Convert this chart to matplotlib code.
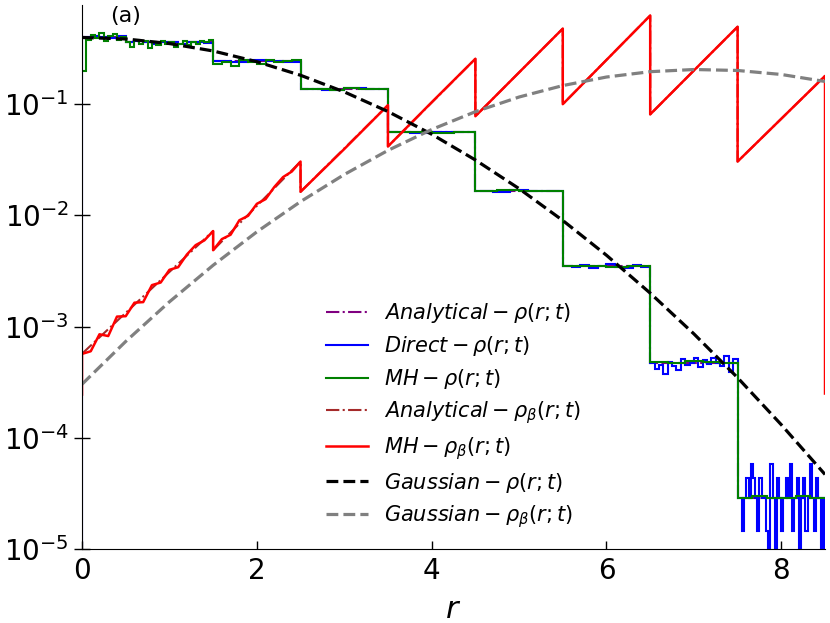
import numpy as np
import matplotlib.pyplot as plt

# ---- data ----
edges = [0, 0.5, 1.5, 2.5, 3.5, 4.5, 5.5, 6.5, 7.5, 8.5]
analytical_rho = [0.404, 0.360, 0.245, 0.137, 0.0557, 0.0166, 0.00348, 0.00047, 2.9e-5]

# direct sampling, sub-bins inside each bin
direct_rho = [
    [0.40, 0.41, 0.40, 0.39, 0.41],
    [0.36, 0.37, 0.36, 0.35, 0.36, 0.36, 0.35, 0.36, 0.36, 0.355],
    [0.245, 0.24, 0.25, 0.245, 0.24],
    [0.137, 0.135, 0.139, 0.137],
    [0.0557, 0.0552, 0.0562, 0.0557],
    [0.0166, 0.0162, 0.0169, 0.0164, 0.0167],
    [3.48e-3, 3.40e-3, 3.55e-3, 3.35e-3, 3.50e-3, 3.62e-3, 3.42e-3, 3.38e-3, 3.56e-3, 3.45e-3],
    [4.70e-4, 4.19e-4, 4.49e-4, 3.73e-4, 4.81e-4, 4.39e-4, 4.09e-4, 5.15e-4, 4.49e-4, 4.70e-4,
     5.27e-4, 4.29e-4, 5.04e-4, 4.59e-4, 5.27e-4, 4.70e-4, 4.39e-4, 5.40e-4, 3.91e-4, 5.15e-4],
]
# last bin: counts of samples (one count ~ 1.45e-5)
direct_last_counts = [2, 2, 1, 2, 3, 2, 4, 3, 2, 1, 3, 2, 2, 1, 0, 4, 2, 0, 3, 2,
                      1, 2, 3, 2, 4, 1, 2, 3, 0, 2, 3, 1, 2, 4, 2, 1, 3, 2, 0, 2]
count_value = 1.45e-5

mh_rho = [
    [0.20, 0.38, 0.42, 0.39, 0.44, 0.37, 0.41, 0.43, 0.38, 0.40],
    [0.36, 0.33, 0.38, 0.35, 0.37, 0.32, 0.36, 0.34, 0.37, 0.35,
     0.36, 0.33, 0.35, 0.37, 0.34, 0.36, 0.35, 0.37, 0.36, 0.38],
    [0.23, 0.24, 0.22, 0.25, 0.24, 0.23, 0.25, 0.24, 0.245, 0.25],
    [0.136, 0.138, 0.135, 0.139, 0.137, 0.138],
    [0.0557, 0.056, 0.0555, 0.0558],
    [0.0166, 0.0168, 0.0165, 0.0167],
    [0.00348, 0.0035, 0.00346, 0.00349],
    [0.00048, 0.00047, 0.00049, 0.00048, 0.00047],
    [2.9e-5, 3.0e-5, 2.9e-5, 2.85e-5, 3.0e-5, 2.9e-5],
]

# rho_beta: analytical sawtooth (start / end of each segment)
beta_edges = [0, 1.5, 2.5, 3.5, 4.5, 5.5, 6.5, 7.5, 8.5]
beta_start = [5.7e-4, 4.86e-3, 0.0163, 0.0417, 0.0779, 0.100, 0.081, 0.0305]
beta_end = [7.23e-3, 0.0305, 0.098, 0.256, 0.478, 0.627, 0.497, 0.1795]

# MH rho_beta
red_r = [0, 0, 0.1, 0.2, 0.3, 0.4, 0.5, 0.6, 0.7, 0.8, 0.9, 1.0, 1.1, 1.2, 1.3, 1.4, 1.5,
         1.5, 1.6, 1.7, 1.8, 1.9, 2.0, 2.1, 2.2, 2.3, 2.4, 2.5,
         2.5, 3.0, 3.5, 3.5, 4.0, 4.5, 4.5, 5.0, 5.5, 5.5, 6.0, 6.5, 6.5, 7.0, 7.5, 7.5, 8.0, 8.5, 8.5]
red_v = [2.45e-4, 5.68e-4, 6.0e-4, 8.53e-4, 8.22e-4, 1.23e-3, 1.24e-3, 1.64e-3, 1.66e-3, 2.36e-3,
         2.49e-3, 3.24e-3, 3.42e-3, 4.45e-3, 5.40e-3, 5.96e-3, 7.23e-3,
         4.86e-3, 6.12e-3, 6.70e-3, 9.04e-3, 9.91e-3, 1.27e-2, 1.40e-2, 1.80e-2, 2.21e-2, 2.48e-2, 3.05e-2,
         1.63e-2, 3.95e-2, 9.8e-2, 4.17e-2, 0.104, 0.256, 0.0779, 0.193, 0.478, 0.100, 0.250, 0.627,
         0.081, 0.201, 0.497, 0.0305, 0.074, 0.1795, 2.5e-4]

# gaussian fits
gauss_r = [0, 0.5, 1, 1.5, 2, 2.5, 3, 3.5, 4, 4.5, 5, 5.5, 6, 6.5, 7, 7.5, 8, 8.5]
gauss_rho = [0.398, 0.386, 0.351, 0.301, 0.241, 0.182, 0.129, 0.0859, 0.0537, 0.0315,
             0.0174, 0.0090, 0.00438, 0.00200, 8.6e-4, 3.47e-4, 1.31e-4, 4.68e-5]
gauss_beta = [3.03e-4, 7.35e-4, 1.67e-3, 3.56e-3, 7.11e-3, 0.0133, 0.0233, 0.0384, 0.0592, 0.0856,
              0.116, 0.147, 0.1755, 0.196, 0.205, 0.201, 0.185, 0.160]


def expand(edges, per_bin):
    xs, ys = [edges[0]], []
    for i, vals in enumerate(per_bin):
        sub = np.linspace(edges[i], edges[i + 1], len(vals) + 1)
        xs.extend(sub[1:])
        ys.extend(vals)
    return np.array(xs), np.array(ys)


def main():
    fig = plt.figure(figsize=(8.3, 6.23), dpi=100)
    ax = fig.add_axes([0.0988, 0.1188, 0.8952, 0.8732])

    last = [c * count_value if c > 0 else 1e-7 for c in direct_last_counts]
    dx, dy = expand(edges, direct_rho + [last])
    mx, my = expand(edges, mh_rho)

    ax.stairs(analytical_rho, edges, color='purple', linestyle='-.', linewidth=1.5,
              baseline=None, label=r'$Analytical-\rho(r;t)$')
    ax.stairs(dy, dx, color='blue', linewidth=1.5, baseline=1e-7,
              label=r'$Direct-\rho(r;t)$')
    ax.stairs(my, mx, color='green', linewidth=1.5, baseline=None,
              label=r'$MH-\rho(r;t)$')

    br, bv = [], []
    for i in range(len(beta_start)):
        br += [beta_edges[i], beta_edges[i + 1]]
        bv += [beta_start[i], beta_end[i]]
    ax.plot(br, bv, color='brown', linestyle='-.', linewidth=1.5,
            label=r'$Analytical-\rho_\beta(r;t)$')
    ax.plot(red_r, red_v, color='red', linewidth=1.8, label=r'$MH-\rho_\beta(r;t)$')

    ax.plot(gauss_r, gauss_rho, color='black', linestyle='--', linewidth=2.3,
            label=r'$Gaussian-\rho(r;t)$')
    ax.plot(gauss_r, gauss_beta, color='gray', linestyle='--', linewidth=2.3,
            label=r'$Gaussian-\rho_\beta(r;t)$')

    ax.set_yscale('log')
    ax.set_xlim(0, 8.5)
    ax.set_ylim(1e-5, 0.78)
    ax.set_xticks([0, 2, 4, 6, 8])
    ax.set_yticks([1e-5, 1e-4, 1e-3, 1e-2, 1e-1])
    ax.minorticks_off()
    ax.tick_params(axis='x', direction='in', length=6, width=1, labelsize=20, pad=6)
    ax.tick_params(axis='y', direction='inout', length=12, width=1, labelsize=20)
    ax.spines['top'].set_visible(False)
    ax.spines['right'].set_visible(False)
    ax.set_xlabel(r'$r$', fontsize=22, labelpad=7)
    ax.text(0.038, 0.98, '(a)', transform=ax.transAxes, fontsize=16, va='center')

    ax.legend(loc='lower center', frameon=False, fontsize=15, labelspacing=0.42)

    fig.savefig('out.png', dpi=100)


if __name__ == '__main__':
    main()
